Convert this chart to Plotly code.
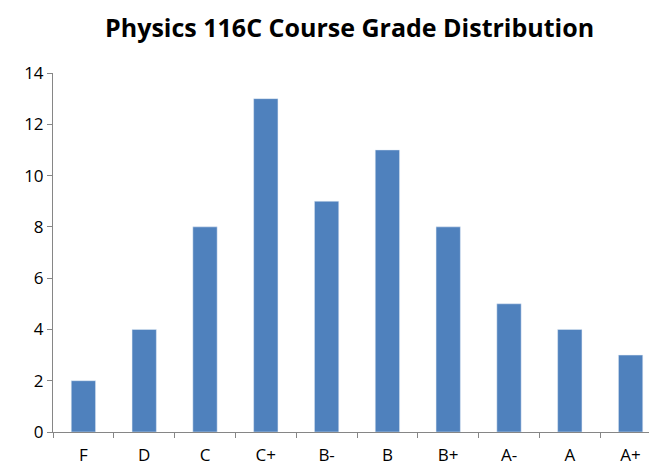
import plotly.graph_objects as go

grades = ["F", "D", "C", "C+", "B-", "B", "B+", "A-", "A", "A+"]
counts = [2, 4, 8, 13, 9, 11, 8, 5, 4, 3]
y_ticks = [0, 2, 4, 6, 8, 10, 12, 14]

fig = go.Figure(go.Bar(x=grades, y=counts, marker_color="#4F81BD", width=0.4))
fig.update_layout(
    width=657, height=467,
    margin=dict(l=45, r=4, t=65, b=43),
    paper_bgcolor="white", plot_bgcolor="white",
    font=dict(family="Open Sans, Liberation Sans, sans-serif", size=17, color="black"),
    title=dict(text="<b>Physics 116C Course Grade Distribution</b>", x=0.52, xanchor="center",
               y=0.975, yanchor="top", font=dict(size=25)),
    showlegend=False,
)
fig.update_xaxes(showline=True, linecolor="#868686", ticks="outside", ticklen=5,
                 tickcolor="#868686", tickson="boundaries", showgrid=False,
                 ticklabelstandoff=8)
fig.update_yaxes(range=[0, 14], tickvals=y_ticks, showline=True, linecolor="#868686",
                 ticks="outside", ticklen=5, tickcolor="#868686", showgrid=False, zeroline=False)
fig.write_html("out.html")
